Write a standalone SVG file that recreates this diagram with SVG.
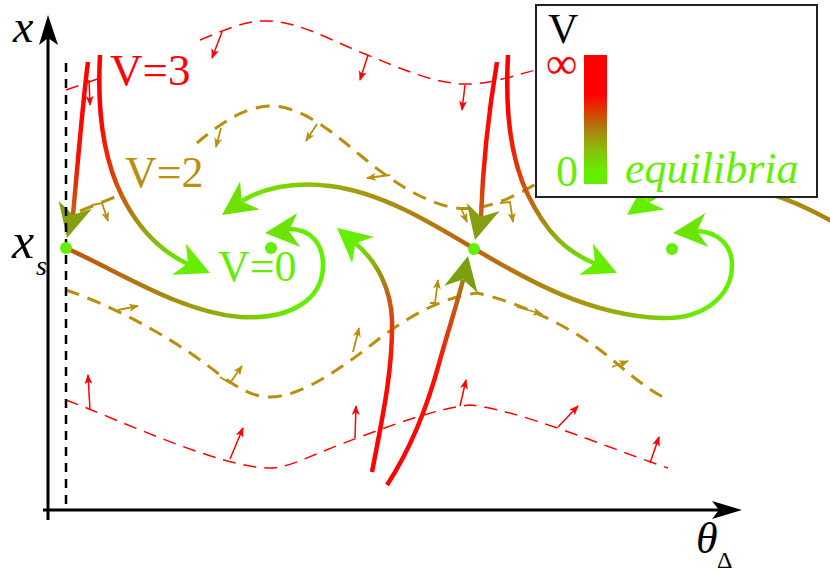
<svg xmlns="http://www.w3.org/2000/svg" width="830" height="573" viewBox="0 0 830 573">
<defs>
<style>
.rd{fill:none;stroke:#ff0000;stroke-width:1.5;stroke-dasharray:13 8}
.od{fill:none;stroke:#b8900e;stroke-width:3;stroke-dasharray:14 9}
.ra{fill:none;stroke:#ff0000;stroke-width:1.5;marker-end:url(#mr)}
.oa{fill:none;stroke:#b8900e;stroke-width:1.8;marker-end:url(#mo)}
.tr{fill:none;stroke-width:4.5}
.dot{fill:#66ee00}
text{font-family:'Liberation Serif','DejaVu Serif',serif}
.i{font-style:italic}
.ax{stroke:#000;stroke-width:3;fill:none}
</style>
<marker id="mr" viewBox="0 0 10 8" refX="9" refY="4" markerUnits="userSpaceOnUse" markerWidth="11" markerHeight="8" orient="auto"><path d="M0,0 L10,4 L0,8 L2.5,4 Z" fill="#ff0000"/></marker>
<marker id="mo" viewBox="0 0 10 8" refX="9" refY="4" markerUnits="userSpaceOnUse" markerWidth="11" markerHeight="8" orient="auto"><path d="M0,0 L10,4 L0,8 L2.5,4 Z" fill="#b8900e"/></marker>
<path id="ah" d="M0,0 L-34,-17 L-24,0 L-34,17 Z"/>
<linearGradient id="gC1" gradientUnits="userSpaceOnUse" x1="0" y1="62" x2="0" y2="240">
<stop offset="0" stop-color="#ff0000"/><stop offset="0.55" stop-color="#f81000"/><stop offset="0.82" stop-color="#c85a10"/><stop offset="1" stop-color="#a08010"/></linearGradient>
<linearGradient id="gC2" gradientUnits="userSpaceOnUse" x1="100" y1="110" x2="188" y2="264">
<stop offset="0" stop-color="#ff0000"/><stop offset="0.3" stop-color="#e83008"/><stop offset="0.55" stop-color="#b87010"/><stop offset="0.8" stop-color="#88b810"/><stop offset="1" stop-color="#66ee00"/></linearGradient>
<linearGradient id="gC7" gradientUnits="userSpaceOnUse" x1="508" y1="110" x2="596" y2="264">
<stop offset="0" stop-color="#ff0000"/><stop offset="0.3" stop-color="#e83008"/><stop offset="0.55" stop-color="#b87010"/><stop offset="0.8" stop-color="#88b810"/><stop offset="1" stop-color="#66ee00"/></linearGradient>
<linearGradient id="gC3" gradientUnits="userSpaceOnUse" x1="66" y1="248" x2="300" y2="280">
<stop offset="0" stop-color="#c0500c"/><stop offset="0.35" stop-color="#b07a10"/><stop offset="0.7" stop-color="#90b010"/><stop offset="1" stop-color="#66ee00"/></linearGradient>
<linearGradient id="gC4" gradientUnits="userSpaceOnUse" x1="240" y1="0" x2="732" y2="0">
<stop offset="0" stop-color="#66ee00"/><stop offset="0.08" stop-color="#78d800"/><stop offset="0.22" stop-color="#a0a010"/><stop offset="0.37" stop-color="#b08010"/><stop offset="0.47" stop-color="#c0600c"/><stop offset="0.59" stop-color="#b08010"/><stop offset="0.73" stop-color="#a0a010"/><stop offset="0.85" stop-color="#80c810"/><stop offset="0.93" stop-color="#66ee00"/></linearGradient>
<linearGradient id="gC5" gradientUnits="userSpaceOnUse" x1="645" y1="0" x2="1137" y2="0">
<stop offset="0" stop-color="#66ee00"/><stop offset="0.08" stop-color="#78d800"/><stop offset="0.22" stop-color="#a0a010"/><stop offset="0.37" stop-color="#b08010"/><stop offset="0.47" stop-color="#c0600c"/></linearGradient>
<linearGradient id="gC8" gradientUnits="userSpaceOnUse" x1="0" y1="472" x2="0" y2="243">
<stop offset="0" stop-color="#ff0000"/><stop offset="0.45" stop-color="#ff0800"/><stop offset="0.66" stop-color="#e04010"/><stop offset="0.77" stop-color="#c06010"/><stop offset="0.86" stop-color="#a09010"/><stop offset="1" stop-color="#66ee00"/></linearGradient>
<linearGradient id="gC9" gradientUnits="userSpaceOnUse" x1="0" y1="485" x2="0" y2="280">
<stop offset="0" stop-color="#ff0000"/><stop offset="0.55" stop-color="#ff1000"/><stop offset="0.8" stop-color="#d04a10"/><stop offset="1" stop-color="#a87a10"/></linearGradient>
<linearGradient id="gBar" x1="0" y1="0" x2="0" y2="1">
<stop offset="0" stop-color="#ff0000"/><stop offset="0.3" stop-color="#ff0000"/><stop offset="0.42" stop-color="#e03400"/><stop offset="0.56" stop-color="#b07810"/><stop offset="0.74" stop-color="#88c008"/><stop offset="0.9" stop-color="#66ee00"/><stop offset="1" stop-color="#66ee00"/></linearGradient>
</defs>
<rect width="830" height="573" fill="#fff"/>

<g id="levelsets">
<path class="rd" d="M66,90 L100,78 M200,40 C225,30 245,20 268,21 C300,22 330,40 365,54 C400,68 430,82 462,84 C490,85 515,75 536,70"/>
<path class="rd" d="M66,400 C120,420 220,468 270,468 C290,468 310,455 360,437 C400,422 440,408 470,405 C520,410 600,445 668,468"/>
<path class="od" d="M80,211 C95,205 108,200 122,194 M197,143 C215,128 240,108 268,106 C300,105 330,130 360,155 C390,180 420,200 450,207 C475,212 500,205 536,184"/>
<path class="od" d="M66,290 C110,305 170,335 220,375 C240,390 255,397 270,397 C300,397 340,370 380,338 C410,316 440,298 477,293 C510,300 560,320 600,350 C620,365 640,385 663,397"/>
</g>

<g id="gradient-arrows">
<path class="ra" d="M89,80 L90,105"/>
<path class="ra" d="M222,32 L212,58"/>
<path class="ra" d="M368,55 L360,80"/>
<path class="ra" d="M465,85 L462,110"/>
<path class="ra" d="M90,410 L88,375"/>
<path class="ra" d="M230,459 L243,428"/>
<path class="ra" d="M355,438 L356,406"/>
<path class="ra" d="M460,406 L466,380"/>
<path class="ra" d="M558,427 L578,406"/>
<path class="ra" d="M650,463 L659,437"/>
<path class="oa" d="M92,205 L102,203 L108,221"/>
<path class="oa" d="M221,128 L216,147"/>
<path class="oa" d="M317,124 L306,141"/>
<path class="oa" d="M390,175 L367,178"/>
<path class="oa" d="M461,208 L467,222"/>
<path class="oa" d="M500,203 L510,202 L513,222"/>
<path class="oa" d="M118,310 L138,306"/>
<path class="oa" d="M220,377 L230,383 L242,366"/>
<path class="oa" d="M353,352 L359,328"/>
<path class="oa" d="M430,303 L435,303 L438,280"/>
<path class="oa" d="M517,307 L542,314"/>
<path class="oa" d="M612,367 L628,361"/>
</g>

<g id="connectors">
<path class="tr" stroke="url(#gC1)" d="M88,62 C83,100 78,160 73,215"/>
<path class="tr" stroke="url(#gC2)" d="M100,55 C97,110 104,160 122,196 C140,232 162,252 188,264"/>
<path class="tr" stroke="url(#gC3)" d="M66,248 C120,272 180,312 240,317 C290,320 323,300 323,265 C323,245 312,229 289,229"/>
<path class="tr" stroke="url(#gC4)" d="M242,201 C262,189 290,181 330,186 C380,192 430,222 473,248 C530,282 590,315 660,318 C705,320 732,295 732,265 C732,245 718,232 697,231"/>
<path class="tr" stroke="url(#gC5)" d="M647,201 C667,189 695,181 735,186 C785,192 835,222 878,248"/>
<path class="tr" stroke="url(#gC1)" d="M497,62 C489,110 483,160 481,217"/>
<path class="tr" stroke="url(#gC7)" d="M508,55 C505,110 511,160 528,195 C546,232 566,252 596,264"/>
<path class="tr" stroke="url(#gC8)" d="M372,472 C382,420 393,370 392,320 C391,290 378,262 355,243"/>
<path class="tr" stroke="url(#gC9)" d="M387,485 C410,450 428,405 440,360 C450,325 458,300 463,280"/>
<use href="#ah" fill="#84a010" transform="translate(67,238) rotate(104)"/>
<use href="#ah" fill="#66ee00" transform="translate(210,273) rotate(24)"/>
<use href="#ah" fill="#6ae400" transform="translate(265,233) rotate(175)"/>
<use href="#ah" fill="#70e000" transform="translate(222,215) rotate(145)"/>
<use href="#ah" fill="#66ee00" transform="translate(627,215) rotate(145)"/>
<use href="#ah" fill="#6ae400" transform="translate(673,233) rotate(175)"/>
<use href="#ah" fill="#84a010" transform="translate(475,240) rotate(104)"/>
<use href="#ah" fill="#66ee00" transform="translate(617,273) rotate(24)"/>
<use href="#ah" fill="#66ee00" transform="translate(337,228) rotate(220)"/>
<use href="#ah" fill="#7aa010" transform="translate(468,256) rotate(-78)"/>
</g>

<g id="axes">
<line x1="66" y1="63" x2="66" y2="510" stroke="#000" stroke-width="2.5" stroke-dasharray="9 7"/>
<line class="ax" x1="48" y1="520" x2="48" y2="38"/>
<path d="M48,15 L58,45 L48,38 L39,45 Z" fill="#000"/>
<line class="ax" x1="43" y1="510" x2="722" y2="510"/>
<path d="M742,510 L712,519 L719,510 L712,501 Z" fill="#000"/>
<text class="i" x="13" y="42" font-size="46">x</text>
<text class="i" x="12" y="258" font-size="50">x</text>
<text class="i" x="36" y="275" font-size="28">s</text>
<text class="i" x="696" y="553" font-size="44">θ</text>
<text x="717" y="568" font-size="24">Δ</text>
</g>

<g id="equilibria">
<circle class="dot" cx="66" cy="248" r="6"/>
<circle class="dot" cx="271" cy="248" r="6"/>
<circle class="dot" cx="474" cy="249" r="6"/>
<circle class="dot" cx="672" cy="249" r="6"/>
</g>

<g id="labels">
<text x="110" y="85" font-size="45" fill="#ff0000">V=3</text>
<text x="125" y="187" font-size="44" fill="#b8900e">V=2</text>
<text x="218" y="281" font-size="44" fill="#66ee00">V=0</text>
</g>

<g id="legend">
<rect x="536" y="5" width="281" height="192" fill="#fff" stroke="#222" stroke-width="2"/>
<text x="548" y="43" font-size="42" fill="#000">V</text>
<text x="546" y="78" font-size="44" fill="#ff0000">∞</text>
<rect x="584" y="55" width="23" height="129" fill="url(#gBar)"/>
<text x="556" y="186" font-size="44" fill="#66ee00">0</text>
<text class="i" x="625" y="183" font-size="44" fill="#66ee00">equilibria</text>
</g>
</svg>
